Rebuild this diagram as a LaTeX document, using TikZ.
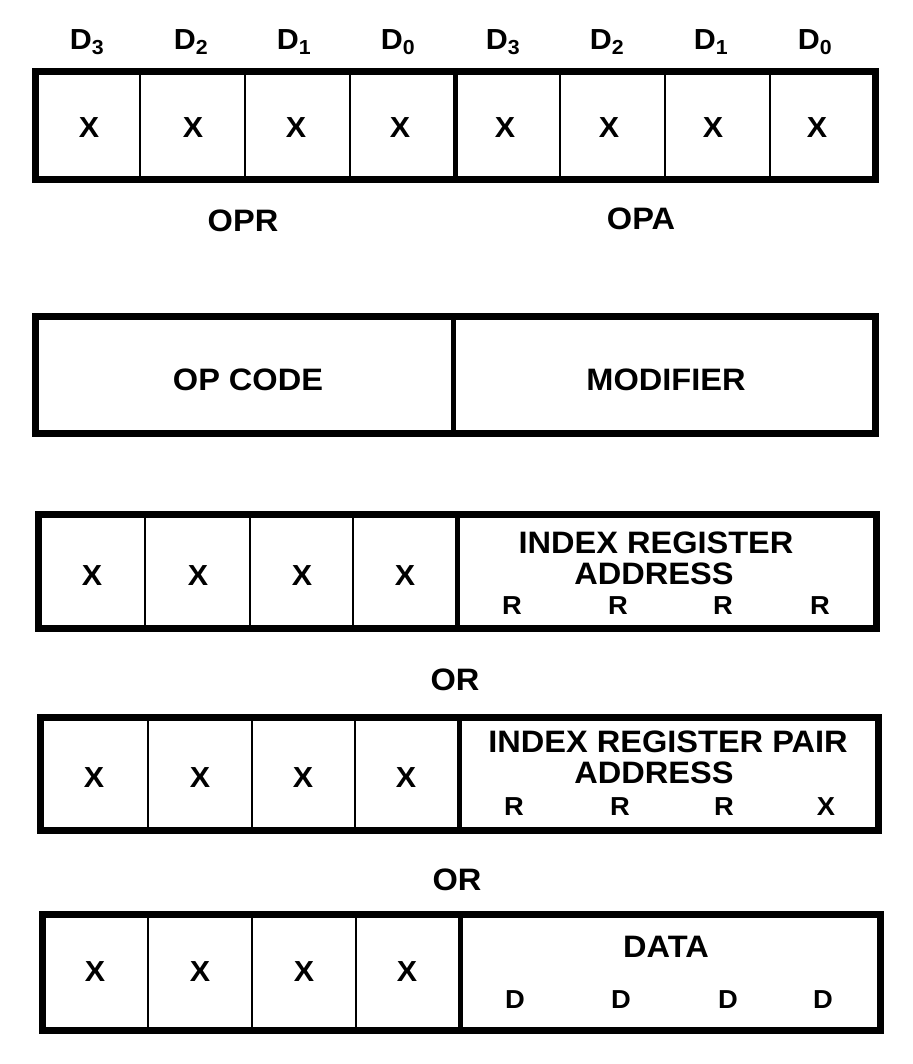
\documentclass[tikz,border=0pt]{standalone}
\usepackage{fontspec}
\setmainfont{Liberation Sans}[FakeStretch=1.05]
\begin{document}
\begin{tikzpicture}[x=1pt,y=-1pt,
  outer/.style={line width=7pt,line join=miter},
  mid/.style={line width=5pt},
  thin/.style={line width=2.5pt},
  lbl/.style={inner sep=0pt,font=\fontsize{31}{33}\selectfont\bfseries},
  xmark/.style={inner sep=0pt,font=\fontsize{29}{31}\selectfont\bfseries},
  dlab/.style={inner sep=0pt,font=\fontsize{29}{31}\selectfont\bfseries},
  small/.style={inner sep=0pt,font=\fontsize{26}{28}\selectfont\bfseries}]
\fill[white] (0,0) rectangle (912,1064);
\useasboundingbox (0,0) rectangle (912,1064);

% ---------- Row 1 ----------
\foreach \n/\x/\d in {1/87/3,2/191/2,3/294/1,4/398/0,5/503/3,6/607/2,7/711/1,8/815/0}{
  \node[dlab] (d\n) at (\x,42) {D\textsubscript{\d}};
  \node[xmark] (a\n) at (\x+2,128) {X};
}
\draw[outer] (35,72) rectangle (875,180);
\foreach \x in {140,245,350,560,665,770}{\draw[thin] (\x,72) -- (\x,180);}
\draw[mid] (455,72) -- (455,180);
\node[lbl] (opr) at (243,221) {OPR};
\node[lbl] (opa) at (641,219) {OPA};

% ---------- Row 2 ----------
\draw[outer] (35,316) rectangle (875,433);
\draw[mid] (453,316) -- (453,433);
\node[lbl] (opcode) at (248,380) {OP CODE};
\node[lbl] (modifier) at (666,380) {MODIFIER};

% ---------- Row 3 ----------
\draw[outer] (38,514) rectangle (876,628);
\foreach \x in {145,250,353}{\draw[thin] (\x,514) -- (\x,628);}
\draw[mid] (457,514) -- (457,628);
\foreach \n/\x in {1/92,2/198,3/302,4/405}{\node[xmark] (b\n) at (\x,576) {X};}
\node[lbl] (ir) at (656,543) {INDEX REGISTER};
\node[lbl] (ira) at (654,574) {ADDRESS};
\foreach \n/\x in {1/512,2/618,3/723,4/820}{\node[small] (br\n) at (\x,606) {R};}

\node[lbl] (or1) at (455,680) {OR};

% ---------- Row 4 ----------
\draw[outer] (40,717) rectangle (878,830);
\foreach \x in {148,252,355}{\draw[thin] (\x,717) -- (\x,830);}
\draw[mid] (459,717) -- (459,830);
\foreach \n/\x in {1/94,2/200,3/303,4/406}{\node[xmark] (c\n) at (\x,778) {X};}
\node[lbl] (irp) at (668,742) {INDEX REGISTER PAIR};
\node[lbl] (irpa) at (654,773) {ADDRESS};
\foreach \n/\x/\t in {1/514/R,2/620/R,3/724/R,4/826/X}{\node[small] (cr\n) at (\x,807) {\t};}

\node[lbl] (or2) at (457,880) {OR};

% ---------- Row 5 ----------
\draw[outer] (42,914) rectangle (880,1030);
\foreach \x in {148,252,356}{\draw[thin] (\x,914) -- (\x,1030);}
\draw[mid] (460,914) -- (460,1030);
\foreach \n/\x in {1/95,2/200,3/304,4/407}{\node[xmark] (e\n) at (\x,972) {X};}
\node[lbl] (data) at (666,947) {DATA};
\foreach \n/\x in {1/515,2/621,3/728,4/823}{\node[small] (ed\n) at (\x,1000) {D};}
\end{tikzpicture}
\end{document}
